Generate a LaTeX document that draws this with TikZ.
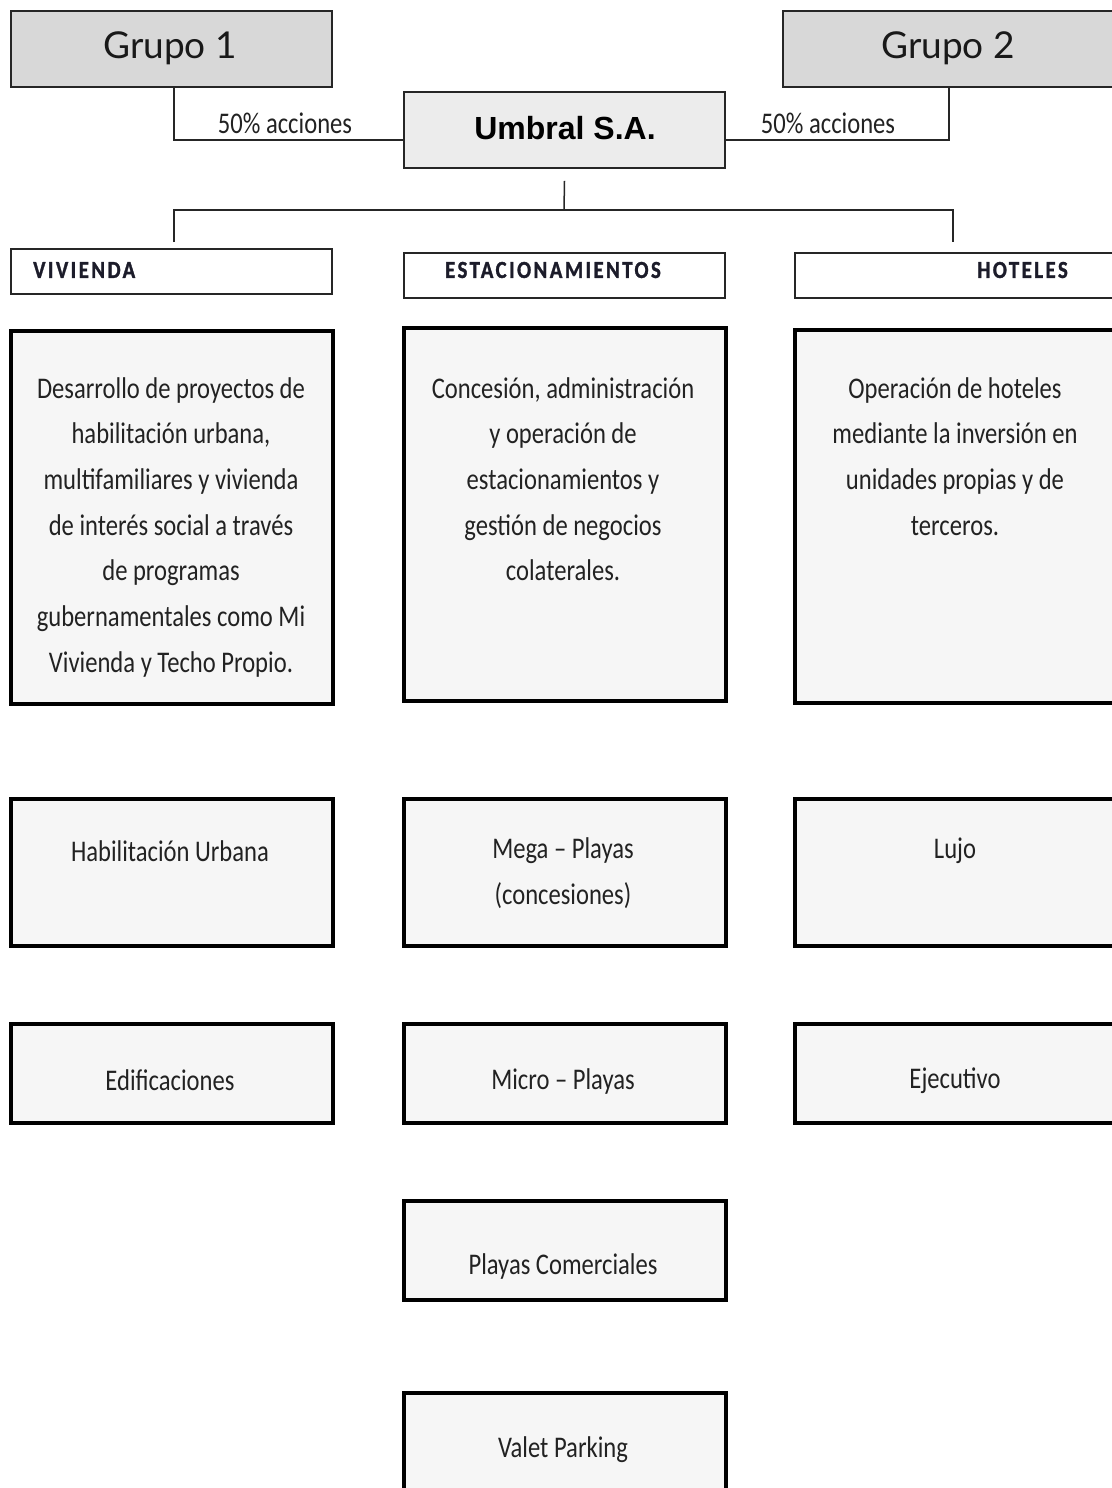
\documentclass[tikz,border=0pt]{standalone}
\usepackage{fontspec}
\setmainfont{Carlito}
\newfontfamily\bodyfont[FakeStretch=0.82]{Carlito}
\newfontfamily\headfont[FakeStretch=0.85,LetterSpace=10,BoldFeatures={FakeBold=1.2}]{Carlito}
\newfontfamily\grpfont{Lato}
\newfontfamily\arialfont{Liberation Sans}
\definecolor{ink}{HTML}{222222}
\definecolor{navy}{HTML}{1C1C2A}
\definecolor{grpgray}{HTML}{D8D8D8}
\definecolor{topgray}{HTML}{ECECEC}
\definecolor{boxfill}{HTML}{F6F6F6}
\begin{document}
\begin{tikzpicture}[x=1pt,y=-1pt,
  grpbox/.style={draw=black!85,line width=1.6pt,fill=grpgray,inner sep=0pt},
  topbox/.style={draw=black!85,line width=1.6pt,fill=topgray,inner sep=0pt},
  headbox/.style={draw=black!85,line width=1.6pt,fill=white,inner sep=0pt},
  descbox/.style={draw=black,line width=3.6pt,fill=boxfill,inner sep=0pt},
  link/.style={draw=black!85,line width=1.5pt},
  bodytxt/.style={text=ink,inner sep=0pt,align=center,font=\bodyfont\fontsize{30}{45.7}\selectfont},
  labeltxt/.style={text=ink,inner sep=0pt,font=\bodyfont\fontsize{30}{34}\selectfont},
  headtxt/.style={text=navy,inner sep=0pt,font=\headfont\bfseries\fontsize{24.5}{28}\selectfont},
  grptxt/.style={text=black!90,inner sep=0pt,font=\grpfont\fontsize{37}{44}\selectfont}]
\useasboundingbox[fill=white] (0,0) rectangle (1111,1488);

% owners and holding
\node[grpbox,minimum width=321pt,minimum height=76pt] (g1) at (171.5,49) {};
\node[grptxt] (g1t) at (170,48) {Grupo 1};
\node[grpbox,minimum width=337pt,minimum height=76pt] (g2) at (951.5,49) {};
\node[grptxt] (g2t) at (948,48) {Grupo 2};
\node[topbox,minimum width=321pt,minimum height=76pt] (umbral) at (564.5,130) {};
\node[text=black,inner sep=0pt,font=\arialfont\bfseries\fontsize{32}{36}\selectfont] (umbralt) at (565,128) {Umbral S.A.};

\draw[link] ([xshift=2.5pt]g1.south) |- ([yshift=-10pt]umbral.west);
\draw[link] ([xshift=-2.5pt]g2.south) |- ([yshift=-10pt]umbral.east);
\node[labeltxt] (acc1) at (285,123) {50\% acciones};
\node[labeltxt] (acc2) at (828,123) {50\% acciones};

% branch bus
\coordinate (bus) at (564,210);
\coordinate (vdrop) at (174,242);
\coordinate (hdrop) at (953,242);
\draw[link] ([yshift=-12pt]umbral.south) -- (bus);
\draw[link] (vdrop) -- (vdrop |- bus) -- (hdrop |- bus) -- (hdrop);

% business line headers
\node[headbox,minimum width=321pt,minimum height=45pt] (viv) at (171.5,271.5) {};
\node[headtxt,anchor=west] (vivt) at (33,270) {VIVIENDA};
\node[headbox,minimum width=321pt,minimum height=45pt] (est) at (564.5,275.5) {};
\node[headtxt] (estt) at (553,270) {ESTACIONAMIENTOS};
\node[headbox,minimum width=325pt,minimum height=45pt] (hot) at (957.5,275.5) {};
\node[headtxt,anchor=east] (hott) at (1068,270) {HOTELES};

% descriptions
\node[descbox,minimum width=322pt,minimum height=373pt] (vivd) at (172,517.5) {};
\node[bodytxt,anchor=north] (vivdt) at (171,377) {Desarrollo de proyectos de\\habilitación urbana,\\multifamiliares y vivienda\\de interés social a través\\de programas\\gubernamentales como Mi\\Vivienda y Techo Propio.};
\node[descbox,minimum width=322pt,minimum height=373pt] (estd) at (565,514.5) {};
\node[bodytxt,anchor=north] (estdt) at (563,377) {Concesión, administración\\y operación de\\estacionamientos y\\gestión de negocios\\colaterales.};
\node[descbox,minimum width=325pt,minimum height=373pt] (hotd) at (957.5,516.5) {};
\node[bodytxt,anchor=north] (hotdt) at (955,377) {Operación de hoteles\\mediante la inversión en\\unidades propias y de\\terceros.};

% segments
\node[descbox,minimum width=322pt,minimum height=147pt] (hab) at (172,872.5) {};
\node[bodytxt] (habt) at (170,851) {Habilitación Urbana};
\node[descbox,minimum width=322pt,minimum height=147pt] (mega) at (565,872.5) {};
\node[bodytxt] (megat) at (563,873) {Mega – Playas\\(concesiones)};
\node[descbox,minimum width=325pt,minimum height=147pt] (lujo) at (957.5,872.5) {};
\node[bodytxt] (lujot) at (955,851) {Lujo};

\node[descbox,minimum width=322pt,minimum height=99pt] (edi) at (172,1073.5) {};
\node[bodytxt] (edit) at (170,1080) {Edificaciones};
\node[descbox,minimum width=322pt,minimum height=99pt] (micro) at (565,1073.5) {};
\node[bodytxt] (microt) at (563,1081) {Micro – Playas};
\node[descbox,minimum width=325pt,minimum height=99pt] (eje) at (957.5,1073.5) {};
\node[bodytxt] (ejet) at (955,1081) {Ejecutivo};

\node[descbox,minimum width=322pt,minimum height=99pt] (com) at (565,1250.5) {};
\node[bodytxt] (comt) at (563,1266) {Playas Comerciales};
\node[descbox,minimum width=322pt,minimum height=106pt] (valet) at (565,1446) {};
\node[bodytxt] (valett) at (563,1450) {Valet Parking};
\end{tikzpicture}
\end{document}
